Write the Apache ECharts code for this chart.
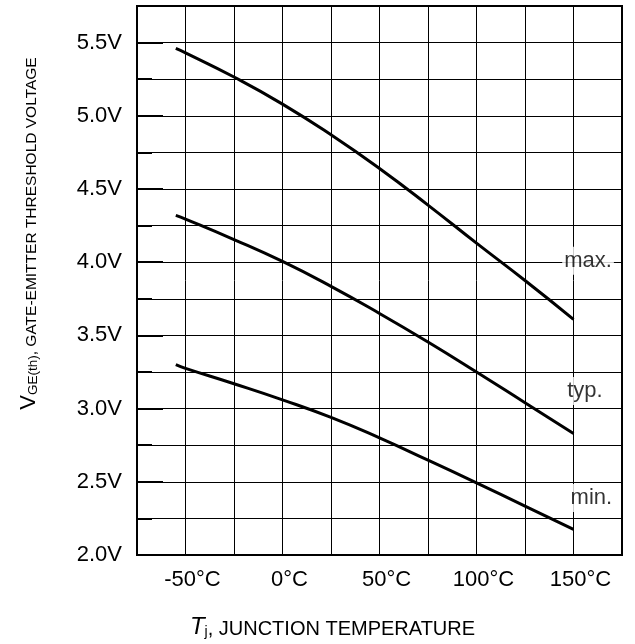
<!DOCTYPE html>
<html>
<head>
<meta charset="utf-8">
<script src="https://cdn.jsdelivr.net/npm/echarts@6/dist/echarts.min.js"></script>
<style>
  html, body { margin: 0; padding: 0; background: #fff; }
  #chart { width: 635px; height: 644px; }
</style>
</head>
<body>
<div id="chart"></div>
<script>
// Junction temperature samples (°C) for the three threshold curves
const junctionTemps = [-55, -50, -25, 0, 25, 50, 75, 100, 125, 150];

// Gate-emitter threshold voltage V_GE(th) in volts
const vthMax = [5.46, 5.43, 5.265, 5.08, 4.87, 4.64, 4.39, 4.13, 3.875, 3.61];
const vthTyp = [4.32, 4.295, 4.155, 4.005, 3.835, 3.65, 3.455, 3.25, 3.04, 2.83];
const vthMin = [3.30, 3.275, 3.17, 3.06, 2.94, 2.80, 2.648, 2.493, 2.334, 2.175];

const curveNames = ['max.', 'typ.', 'min.'];

// Labelled ticks
const tempTickLabels = [-50, 0, 50, 100, 150];
const voltTickLabels = [2.0, 2.5, 3.0, 3.5, 4.0, 4.5, 5.0, 5.5];

const FONT = '"Liberation Sans", Arial, sans-serif';

function toPairs(xs, ys) {
  return xs.map((x, i) => [x, ys[i]]);
}

// Where each curve's name sits, to the right of the curve ends
const nameAnchors = [[157.5, 4.01], [155.9, 3.12], [159.2, 2.39]];

const chart = echarts.init(document.getElementById('chart'), null, { renderer: 'canvas' });

const curveSeries = [vthMax, vthTyp, vthMin].map((vals, i) => ({
  type: 'line',
  name: curveNames[i],
  data: toPairs(junctionTemps, vals),
  smooth: 0.5,
  symbol: 'none',
  lineStyle: { color: '#000', width: 3 },
  z: 3
}));

const nameSeries = {
  type: 'scatter',
  symbolSize: 0,
  silent: true,
  z: 5,
  data: curveNames.map((n, i) => ({ name: n, value: nameAnchors[i] })),
  label: {
    show: true,
    position: 'inside',
    formatter: p => p.name,
    color: '#000',
    fontFamily: FONT,
    fontSize: 22,
    backgroundColor: '#fff',
    padding: [3, 2, 3, 2]
  }
};

const option = {
  animation: false,
  backgroundColor: '#fff',
  grid: {
    left: 137, right: 13, top: 6, bottom: 88,
    show: true, borderColor: '#000', borderWidth: 2, backgroundColor: 'transparent'
  },
  xAxis: {
    type: 'value',
    min: -75, max: 175, interval: 25,
    axisLine: { show: false, onZero: false },
    axisTick: { show: false },
    splitLine: { show: true, lineStyle: { color: '#000', width: 1 } },
    axisLabel: {
      margin: 14,
      color: '#000',
      fontFamily: FONT,
      fontSize: 22,
      padding: [0, 0, 0, 14],
      formatter: v => tempTickLabels.includes(v) ? v + '°C' : ''
    },
    name: '{t|T}{j|j}{r|, JUNCTION TEMPERATURE}',
    nameLocation: 'middle',
    nameGap: 60,
    nameTextStyle: {
      padding: [0, 94, 0, 0],
      rich: {
        t: { fontFamily: FONT, fontSize: 24, fontStyle: 'italic', color: '#000', lineHeight: 24, verticalAlign: 'bottom' },
        j: { fontFamily: FONT, fontSize: 14, color: '#000', lineHeight: 12, verticalAlign: 'bottom' },
        r: { fontFamily: FONT, fontSize: 20, color: '#000', lineHeight: 20, verticalAlign: 'bottom' }
      }
    }
  },
  yAxis: [
    {
      type: 'value',
      position: 'left',
      min: 2.0, max: 5.75, interval: 0.25,
      axisLine: { show: false, onZero: false },
      axisTick: { show: true, inside: true, length: 15, lineStyle: { color: '#000', width: 2 } },
      splitLine: { show: true, lineStyle: { color: '#000', width: 1 } },
      axisLabel: {
        margin: 15,
        color: '#000',
        fontFamily: FONT,
        fontSize: 22,
        formatter: v => {
          const t = voltTickLabels.find(x => Math.abs(x - v) < 1e-6);
          return t === undefined ? '' : t.toFixed(1) + 'V';
        }
      },
      name: '{v|V}{s|GE(th)}{r|, GATE-EMITTER THRESHOLD VOLTAGE}',
      nameLocation: 'middle',
      nameGap: 97,
      nameTextStyle: {
        padding: [0, 0, 0, 94],
        rich: {
          v: { fontFamily: FONT, fontSize: 22, color: '#000', lineHeight: 22, verticalAlign: 'bottom' },
          s: { fontFamily: FONT, fontSize: 13.5, color: '#000', lineHeight: 13, verticalAlign: 'bottom' },
          r: { fontFamily: FONT, fontSize: 15.5, color: '#000', lineHeight: 20, verticalAlign: 'bottom' }
        }
      }
    },
    {
      // longer inside ticks at the labelled half-volt steps
      type: 'value',
      position: 'left',
      offset: 0,
      min: 2.0, max: 5.75, interval: 0.5,
      axisLine: { show: false, onZero: false },
      axisLabel: { show: false },
      splitLine: { show: false },
      axisTick: { show: true, inside: true, length: 26, lineStyle: { color: '#000', width: 2 } }
    }
  ],
  series: curveSeries.concat([nameSeries])
};

chart.setOption(option);
</script>
</body>
</html>
